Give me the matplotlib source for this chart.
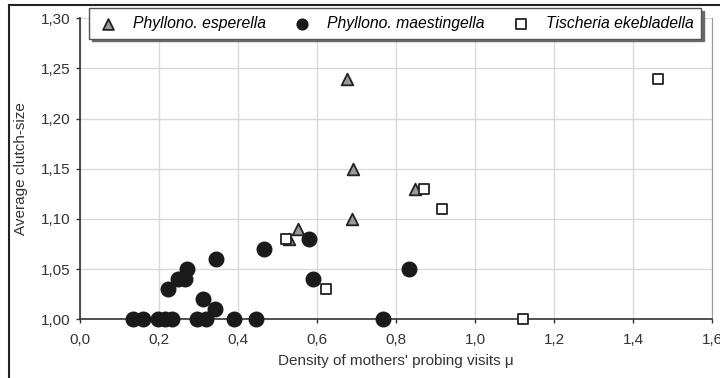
import matplotlib.pyplot as plt
from matplotlib.lines import Line2D
from matplotlib.ticker import FuncFormatter, MultipleLocator

plt.rcParams['font.family'] = ['Liberation Sans', 'DejaVu Sans']

# Phyllonorycter esperella
esp_x = [0.677, 0.690, 0.688, 0.553, 0.530, 0.848]
esp_y = [1.24, 1.15, 1.10, 1.09, 1.08, 1.13]

# Phyllonorycter maestingella
mae_x = [0.135, 0.160, 0.198, 0.215, 0.232, 0.295, 0.320, 0.390, 0.445, 0.766,
         0.224, 0.249, 0.266, 0.270, 0.312, 0.342, 0.344, 0.466, 0.580, 0.591, 0.834]
mae_y = [1.00, 1.00, 1.00, 1.00, 1.00, 1.00, 1.00, 1.00, 1.00, 1.00,
         1.03, 1.04, 1.04, 1.05, 1.02, 1.01, 1.06, 1.07, 1.08, 1.04, 1.05]

# Tischeria ekebladella
tis_x = [0.521, 0.622, 0.871, 0.917, 1.122, 1.464]
tis_y = [1.08, 1.03, 1.13, 1.11, 1.00, 1.24]

fig = plt.figure(figsize=(7.2, 3.78), dpi=100)
ax = fig.add_axes([80/720, 1 - 319.3/378, 632/720, 301/378])

ax.scatter(mae_x, mae_y, s=110, marker='o', color='#1a1a1a', zorder=3,
           label='Phyllono. maestingella', clip_on=False)
ax.scatter(esp_x, esp_y, s=70, marker='^', facecolor='#999999', edgecolor='#222222',
           linewidth=1.3, zorder=4, label='Phyllono. esperella', clip_on=False)
ax.scatter(tis_x, tis_y, s=45, marker='s', facecolor='white', edgecolor='#222222',
           linewidth=1.3, zorder=4, label='Tischeria ekebladella', clip_on=False)

ax.set_xlim(0, 1.6)
ax.set_ylim(1.0, 1.3)
ax.xaxis.set_major_locator(MultipleLocator(0.2))
ax.yaxis.set_major_locator(MultipleLocator(0.05))
ax.xaxis.set_major_formatter(FuncFormatter(lambda v, p: f'{v:.1f}'.replace('.', ',')))
ax.yaxis.set_major_formatter(FuncFormatter(lambda v, p: f'{v:.2f}'.replace('.', ',')))

ax.grid(True, color='#d9d9d9', linewidth=1)
ax.set_axisbelow(True)
ax.spines['top'].set_visible(False)
ax.spines['right'].set_color('#999999')
ax.spines['left'].set_color('#333333')
ax.spines['bottom'].set_color('#333333')
ax.spines['left'].set_linewidth(1.2)
ax.spines['bottom'].set_linewidth(1.2)
ax.tick_params(direction='out', length=3, width=1, color='#333333',
               labelsize=11, labelcolor='#333333', pad=7)
ax.tick_params(axis='y', pad=4)

ax.set_xlabel("Density of mothers' probing visits \u03bc", fontsize=11, color='#333333', labelpad=5)
ax.set_ylabel('Average clutch-size', fontsize=11, color='#333333', labelpad=9)

handles, labels = ax.get_legend_handles_labels()
order = [1, 0, 2]
leg = ax.legend([handles[i] for i in order], [labels[i] for i in order],
                ncol=3, loc='upper left', bbox_to_anchor=(89/720, 1 - 8/378),
                bbox_transform=fig.transFigure, borderaxespad=0, frameon=True,
                fancybox=False, shadow={'color': '#6a6a6a', 'alpha': 1.0},
                edgecolor='#555555', prop={'style': 'italic', 'size': 11.3},
                columnspacing=1.6, handletextpad=0.85, borderpad=0.5,
                framealpha=1, handlelength=1.45)
leg.get_frame().set_linewidth(1)
leg.set_zorder(10)
for h, sz in zip(leg.legend_handles, [60, 60, 45]):
    h.set_sizes([sz])

# outer frame pieces
fig.add_artist(Line2D([9/720, 9/720], [0, 1 - 5/378], color='#222222', linewidth=1.5))
fig.add_artist(Line2D([9/720, 1], [1 - 5/378, 1 - 5/378], color='#222222', linewidth=1.5))

fig.savefig('out.png', dpi=100)
